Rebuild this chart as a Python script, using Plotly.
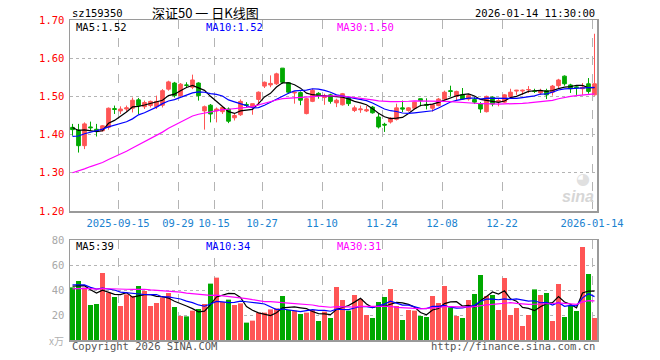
import numpy as np
import pandas as pd
import plotly.graph_objects as go

# ---------------- data ----------------
holidays = ["2025-10-01", "2025-10-02", "2025-10-03", "2025-10-06", "2025-10-07",
            "2025-10-08", "2026-01-01", "2026-01-02"]
dates = [d.strftime("%Y-%m-%d") for d in pd.bdate_range("2025-09-03", "2026-01-14")
         if d.strftime("%Y-%m-%d") not in holidays]

open_ = [1.419, 1.412, 1.371, 1.420, 1.414, 1.410, 1.419, 1.468, 1.462, 1.467,
         1.469, 1.491, 1.473, 1.476, 1.473, 1.477, 1.519, 1.535, 1.502, 1.530,
         1.524, 1.535, 1.462, 1.477, 1.462, 1.460, 1.467, 1.444, 1.452, 1.479,
         1.473, 1.492, 1.527, 1.530, 1.533, 1.574, 1.536, 1.509, 1.510, 1.455,
         1.487, 1.508, 1.497, 1.504, 1.483, 1.478, 1.496, 1.463, 1.465, 1.462,
         1.472, 1.446, 1.427, 1.433, 1.440, 1.470, 1.463, 1.469, 1.494, 1.479,
         1.469, 1.476, 1.493, 1.515, 1.500, 1.504, 1.493, 1.492, 1.480, 1.460,
         1.498, 1.486, 1.485, 1.500, 1.514, 1.514, 1.517, 1.514, 1.509, 1.515,
         1.511, 1.528, 1.553, 1.530, 1.525, 1.520, 1.533, 1.504]
high = [1.428, 1.428, 1.432, 1.434, 1.428, 1.425, 1.471, 1.476, 1.474, 1.476,
        1.497, 1.496, 1.489, 1.489, 1.502, 1.519, 1.541, 1.538, 1.535, 1.537,
        1.557, 1.537, 1.476, 1.480, 1.471, 1.474, 1.471, 1.455, 1.492, 1.485,
        1.481, 1.513, 1.539, 1.555, 1.562, 1.574, 1.537, 1.513, 1.513, 1.496,
        1.520, 1.511, 1.507, 1.507, 1.494, 1.509, 1.498, 1.476, 1.476, 1.475,
        1.475, 1.455, 1.431, 1.446, 1.481, 1.489, 1.472, 1.486, 1.494, 1.495,
        1.480, 1.496, 1.515, 1.528, 1.515, 1.522, 1.506, 1.498, 1.485, 1.502,
        1.500, 1.493, 1.506, 1.520, 1.517, 1.518, 1.527, 1.520, 1.520, 1.520,
        1.530, 1.546, 1.555, 1.533, 1.528, 1.535, 1.548, 1.664]
low = [1.397, 1.353, 1.362, 1.410, 1.395, 1.408, 1.413, 1.454, 1.454, 1.460,
       1.458, 1.454, 1.467, 1.471, 1.467, 1.471, 1.515, 1.497, 1.500, 1.524,
       1.519, 1.489, 1.413, 1.432, 1.432, 1.454, 1.430, 1.437, 1.449, 1.472,
       1.452, 1.477, 1.522, 1.524, 1.530, 1.533, 1.507, 1.481, 1.477, 1.453,
       1.485, 1.494, 1.478, 1.481, 1.472, 1.476, 1.475, 1.459, 1.457, 1.459,
       1.455, 1.416, 1.407, 1.429, 1.437, 1.459, 1.460, 1.467, 1.474, 1.466,
       1.460, 1.474, 1.489, 1.500, 1.489, 1.491, 1.489, 1.480, 1.457, 1.458,
       1.474, 1.474, 1.483, 1.498, 1.504, 1.504, 1.509, 1.509, 1.504, 1.493,
       1.502, 1.520, 1.528, 1.509, 1.504, 1.504, 1.507, 1.502]
close = [1.413, 1.371, 1.428, 1.418, 1.410, 1.423, 1.469, 1.466, 1.467, 1.470,
         1.490, 1.476, 1.484, 1.487, 1.487, 1.515, 1.538, 1.502, 1.532, 1.529,
         1.543, 1.502, 1.473, 1.454, 1.467, 1.471, 1.435, 1.450, 1.487, 1.477,
         1.481, 1.511, 1.537, 1.534, 1.559, 1.537, 1.511, 1.511, 1.490, 1.494,
         1.516, 1.503, 1.502, 1.487, 1.490, 1.507, 1.481, 1.470, 1.467, 1.465,
         1.457, 1.420, 1.425, 1.443, 1.470, 1.467, 1.470, 1.485, 1.489, 1.477,
         1.478, 1.493, 1.511, 1.513, 1.513, 1.493, 1.502, 1.485, 1.467, 1.500,
         1.480, 1.489, 1.504, 1.511, 1.516, 1.516, 1.518, 1.513, 1.515, 1.504,
         1.527, 1.543, 1.533, 1.520, 1.523, 1.524, 1.513, 1.533]
volume = [42.1, 47.2, 41.9, 28.0, 28.8, 53.6, 37.9, 34.4, 27.2, 36.5,
          35.2, 43.2, 39.2, 27.2, 29.6, 34.1, 37.6, 26.4, 19.2, 18.9,
          23.5, 24.8, 28.8, 45.1, 49.9, 30.4, 32.3, 28.0, 29.3, 13.9,
          15.5, 21.9, 21.9, 24.5, 25.3, 35.2, 24.0, 23.5, 20.8, 21.9,
          24.0, 15.2, 22.7, 17.6, 42.4, 32.0, 23.5, 36.0, 32.8, 20.0,
          17.6, 30.4, 34.4, 40.8, 27.2, 16.0, 24.0, 23.5, 19.2, 18.4,
          35.2, 29.6, 43.2, 26.1, 19.2, 17.6, 32.0, 36.8, 52.0, 35.2,
          36.0, 24.0, 49.6, 20.0, 25.6, 11.2, 20.0, 40.5, 36.0, 37.6,
          15.2, 44.8, 18.4, 27.2, 23.2, 74.4, 52.8, 17.6]

# estimated closes / volumes of the 29 sessions before the window (MA warm-up only)
prior_close = [1.24, 1.25, 1.24, 1.26, 1.25, 1.24, 1.26, 1.26,
               1.23, 1.24, 1.23, 1.25, 1.24, 1.23, 1.25, 1.24, 1.26, 1.25,
               1.30, 1.33, 1.36, 1.37, 1.38, 1.37, 1.38,
               1.41, 1.42, 1.43, 1.42]
prior_volume = [37, 40, 36, 39, 41, 38, 36, 40, 39, 38,
                41, 39, 42, 38, 40, 43, 39, 41, 42, 38,
                46, 44, 48, 43, 46,
                45, 42, 44, 42]

ma_periods = [5, 10, 30]
price_ma_labels = ["1.52", "1.52", "1.50"]
vol_ma_labels = ["39", "34", "31"]
tick_dates = ["2025-09-15", "2025-09-29", "2025-10-15", "2025-10-27", "2025-11-10",
              "2025-11-24", "2025-12-08", "2025-12-22", "2026-01-14"]
tick_text = ["2025-09-15", "09-29", "10-15", "10-27", "11-10",
             "11-24", "12-08", "12-22", "2026-01-14"]
price_ticks = [1.20, 1.30, 1.40, 1.50, 1.60, 1.70]
vol_ticks = [20, 40, 60, 80]

# ---------------- styling ----------------
RED = "#ff5555"
GREEN = "#00a800"
MA_COLORS = ["#000000", "#0000ff", "#ff00ff"]
BLUE_TXT = "#1a82d0"
GRID = "#b4b4b4"
BORDER = "#9a9a9a"
MONO = "DejaVu Sans Mono, Liberation Mono, monospace"

n = len(dates)
xi = np.arange(n)
W, H = 660, 360
L, R, T, B = 70, 63, 20, 20
PW, PH = W - L - R, H - T - B


def px(x):
    return (x - L) / PW


def py(y):
    return (H - B - y) / PH


def rolling(full, p):
    arr = np.asarray(full, dtype=float)
    out = np.convolve(arr, np.ones(p) / p, mode="valid")
    return out[-n:]


full_close = prior_close + close
full_vol = prior_volume + volume

fig = go.Figure()
fig.add_trace(go.Candlestick(
    x=xi, open=open_, high=high, low=low, close=close,
    increasing=dict(line=dict(color=RED, width=1), fillcolor=RED),
    decreasing=dict(line=dict(color=GREEN, width=1), fillcolor=GREEN),
    whiskerwidth=0, xaxis="x", yaxis="y", showlegend=False, hoverinfo="skip"))
for p, c in zip(ma_periods, MA_COLORS):
    fig.add_trace(go.Scatter(x=xi, y=rolling(full_close, p), mode="lines",
                             line=dict(color=c, width=1.2), xaxis="x", yaxis="y",
                             showlegend=False, hoverinfo="skip"))

vcolors = [RED if c >= o else GREEN for o, c in zip(open_, close)]
fig.add_trace(go.Bar(x=xi, y=volume, width=0.83, marker=dict(color=vcolors, line=dict(width=0)),
                     xaxis="x2", yaxis="y2", showlegend=False, hoverinfo="skip"))
for p, c in zip(ma_periods, MA_COLORS):
    fig.add_trace(go.Scatter(x=xi, y=rolling(full_vol, p), mode="lines",
                             line=dict(color=c, width=1.2), xaxis="x2", yaxis="y2",
                             showlegend=False, hoverinfo="skip"))

off = 0.4167
xr = [-off, n - 1 + off]
tickvals = [dates.index(d) - off for d in tick_dates]

main_dom = [py(211), 1]
vol_dom = [0, 0.3125]

common_x = dict(range=xr, showgrid=True, griddash="dash", gridcolor=GRID, gridwidth=1,
                showline=True, linecolor=BORDER, linewidth=1.5, mirror=True,
                zeroline=False, tickvals=tickvals, fixedrange=True,
                ticks="outside", ticklen=2, tickcolor="rgba(0,0,0,0)")
common_y = dict(showgrid=True, griddash="dot", gridcolor=GRID, gridwidth=1,
                showline=True, linecolor=BORDER, linewidth=1.5, mirror=True,
                zeroline=False, fixedrange=True,
                ticks="outside", ticklen=2, tickcolor="rgba(0,0,0,0)")
fig.update_layout(
    width=W, height=H, margin=dict(l=L, r=R, t=T, b=B, autoexpand=False),
    paper_bgcolor="white", plot_bgcolor="white",
    font=dict(family=MONO, size=10, color="#000"),
    boxgap=0.12,
    xaxis=dict(**common_x, anchor="y", ticktext=tick_text,
               tickfont=dict(color=BLUE_TXT, size=10.5, family=MONO),
               rangeslider=dict(visible=False)),
    xaxis2=dict(**common_x, anchor="y2", matches="x", showticklabels=False),
    yaxis=dict(**common_y, domain=main_dom, range=[1.20, 1.70], tickvals=price_ticks,
               ticktext=[f"{v:.2f}" for v in price_ticks],
               tickfont=dict(color="#ff0000", size=10.5, family=MONO)),
    yaxis2=dict(**common_y, domain=vol_dom, range=[0, 80], tickvals=vol_ticks,
                ticktext=[str(v) for v in vol_ticks],
                tickfont=dict(color="#a8a8a8", size=10.5, family=MONO)),
)

ann = []


def add_text(x, y, text, color="#000", size=10, xanchor="left", family=MONO, **kw):
    ann.append(dict(x=px(x), y=py(y), xref="paper", yref="paper", text=text,
                    showarrow=False, xanchor=xanchor, yanchor="middle",
                    font=dict(color=color, size=size, family=family), **kw))


# header
add_text(70, 13, "sz159350", size=10.5)
add_text(150, 12.5, "深证50 一 日K线图", size=13,
         family="Noto Sans CJK SC, Noto Sans, sans-serif")
add_text(597, 13, "2026-01-14 11:30:00", size=10.5, xanchor="right")

# MA legends
leg_x = [74, 204, 334.5]
for p, c, lab, x in zip(ma_periods, MA_COLORS, price_ma_labels, leg_x):
    add_text(x, 27, f"MA{p}:{lab}", color=c, size=10.5)
for p, c, lab, x in zip(ma_periods, MA_COLORS, vol_ma_labels, leg_x):
    add_text(x, 246, f"MA{p}:{lab}", color=c, size=10.5)

# unit + footer
add_text(66, 340, "x万", color="#b0b0b0", size=10, xanchor="right",
         family="Noto Sans CJK SC, sans-serif")
add_text(70, 346, "Copyright 2026 SINA.COM", color="#555", size=10.5)
add_text(597, 346, "http://finance.sina.com.cn", color="#555", size=10.5, xanchor="right")

# watermark
add_text(596, 196, "<b><i>sina</i></b>", color="#d6d6d6", size=16, xanchor="right",
         family="Liberation Sans, Arial, sans-serif")
add_text(583, 178, "◕", color="#e0e0e0", size=16, xanchor="center",
         family="DejaVu Sans, sans-serif")

fig.update_layout(annotations=ann)
fig.write_html("out.html", config={"displayModeBar": False, "staticPlot": True},
               post_script="document.body.style.margin='0';document.body.style.padding='0';")
